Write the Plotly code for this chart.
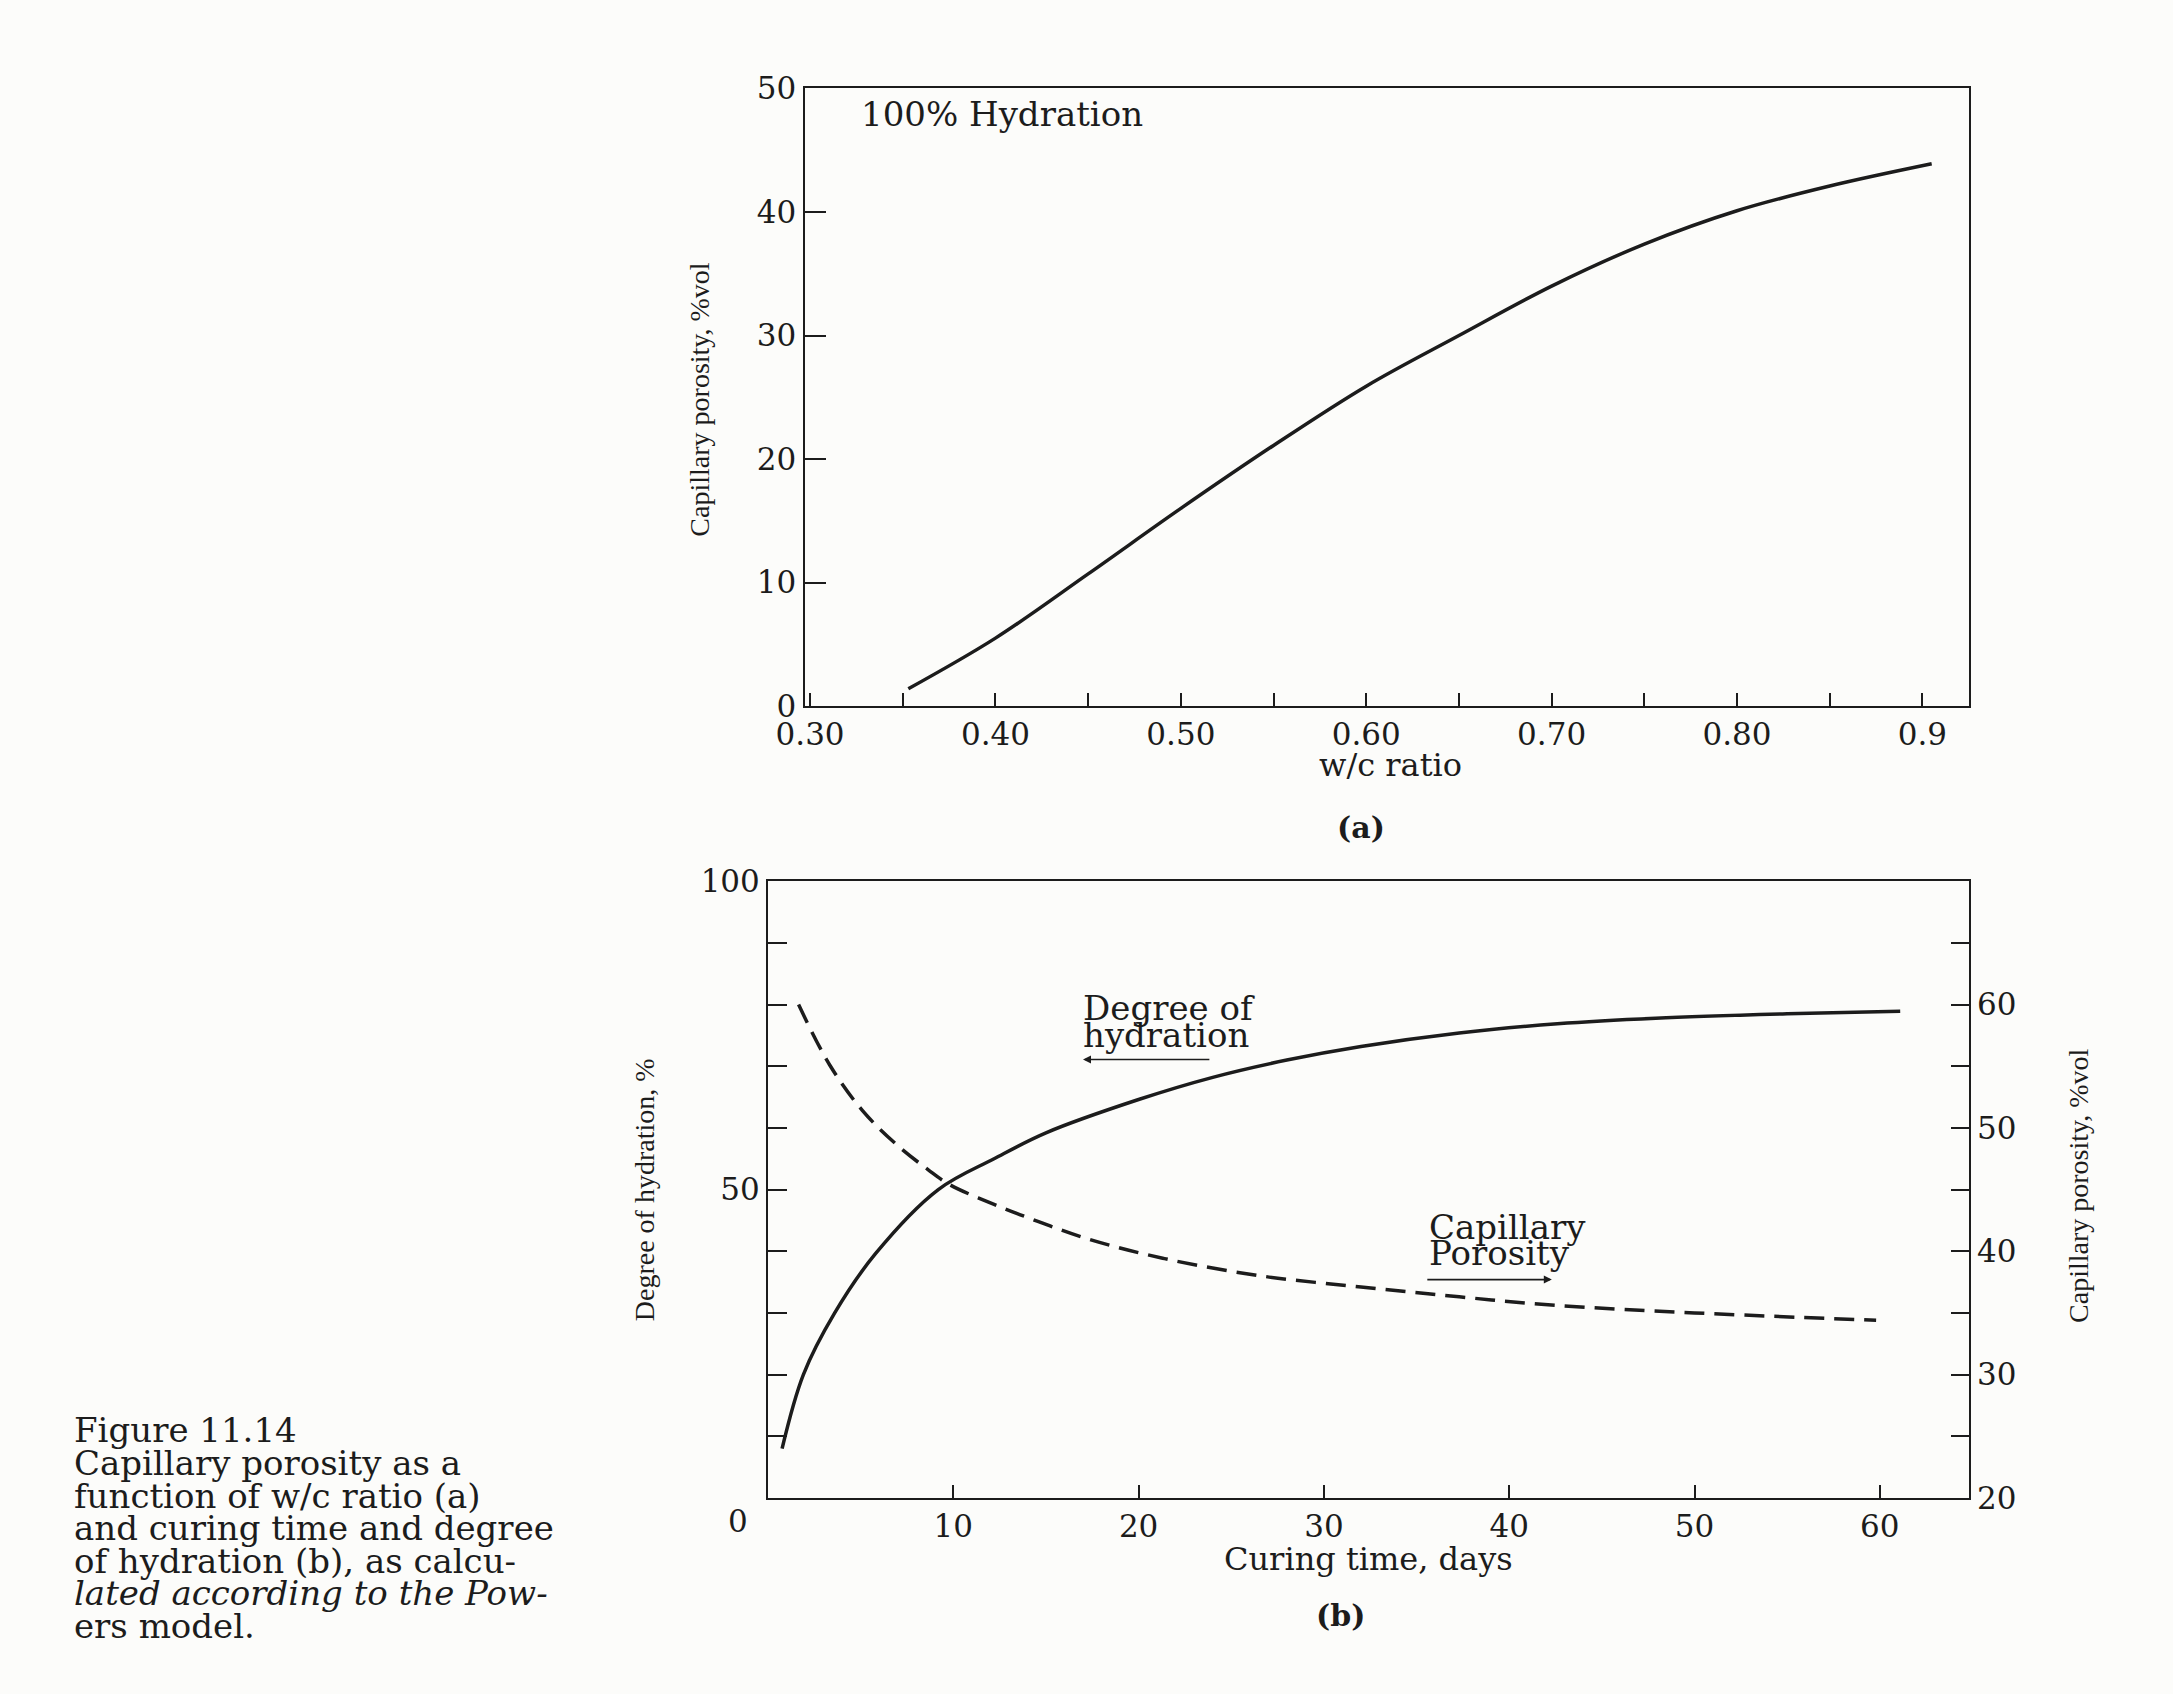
import plotly.graph_objects as go

# (a) capillary porosity vs w/c ratio at 100% hydration
wc_ratio = [0.353, 0.40, 0.45, 0.50, 0.55, 0.60, 0.65, 0.70, 0.75, 0.80, 0.85, 0.905]
porosity_wc = [1.4, 5.5, 10.7, 16.0, 21.1, 25.9, 30.0, 34.0, 37.4, 40.1, 42.1, 43.9]
wc_ticks = [0.30, 0.35, 0.40, 0.45, 0.50, 0.55, 0.60, 0.65, 0.70, 0.75, 0.80, 0.85, 0.90]
wc_labels = ["0.30", "", "0.40", "", "0.50", "", "0.60", "", "0.70", "", "0.80", "", "0.9"]
por_ticks = [0, 10, 20, 30, 40, 50]

# (b) degree of hydration and capillary porosity vs curing time
days_hyd = [0.76, 1.91, 3.6, 5.8, 9.19, 12.2, 15.0, 20.0, 24.0, 28.0, 32.0, 37.3, 42.6, 47.9, 55.0, 61.1]
hydration = [8.0, 20.0, 30.0, 39.6, 50.0, 55.0, 59.2, 64.6, 68.2, 71.0, 73.2, 75.4, 76.9, 77.8, 78.5, 78.9]
days_por = [1.65, 3.33, 5.1, 6.9, 8.65, 9.8, 12.2, 14.6, 17.25, 21.4, 26.6, 32.0, 37.3, 42.6, 50.0, 59.8]
porosity_days = [60.0, 55.1, 51.4, 48.7, 46.6, 45.4, 43.8, 42.4, 41.0, 39.4, 38.0, 37.1, 36.3, 35.6, 35.0, 34.4]
day_ticks = [10, 20, 30, 40, 50, 60]
hyd_ticks = [0, 10, 20, 30, 40, 50, 60, 70, 80, 90, 100]
hyd_labels = ["", "", "", "", "", "50", "", "", "", "", "100"]
cp_ticks = [20, 25, 30, 35, 40, 45, 50, 55, 60, 65, 70]
cp_labels = ["20", "", "30", "", "40", "", "50", "", "60", "", ""]

caption = [
    "Figure 11.14",
    "Capillary porosity as a",
    "function of w/c ratio (a)",
    "and curing time and degree",
    "of hydration (b), as calcu-",
    "<i>lated according to the Pow-</i>",
    "ers model.",
]

W, H = 2173, 1694
INK = "#1c1c1c"
SERIF = "DejaVu Serif"
NARROW = "Liberation Serif"


def px(x):
    return x / W


def py(y):
    return 1 - y / H


axis_common = dict(
    showline=True, linecolor=INK, linewidth=2, showgrid=False, zeroline=False,
    ticks="inside", tickcolor=INK, tickwidth=2,
    tickfont=dict(family=SERIF, size=31, color=INK),
)

fig = go.Figure()

fig.add_trace(go.Scatter(
    x=wc_ratio, y=porosity_wc, mode="lines", line=dict(color=INK, width=3.5, shape="spline"),
    xaxis="x", yaxis="y", showlegend=False,
))
fig.add_trace(go.Scatter(
    x=days_hyd, y=hydration, mode="lines", line=dict(color=INK, width=3.5, shape="spline"),
    xaxis="x2", yaxis="y2", showlegend=False,
))
fig.add_trace(go.Scatter(
    x=days_por, y=porosity_days, mode="lines",
    line=dict(color=INK, width=3.5, shape="spline", dash="20px,10px"),
    xaxis="x2", yaxis="y3", showlegend=False,
))

fig.update_layout(
    width=W, height=H,
    margin=dict(l=0, r=0, t=0, b=0),
    paper_bgcolor="#fcfcfa", plot_bgcolor="rgba(0,0,0,0)",
    xaxis=dict(axis_common, domain=[px(786), px(1966)], range=[0.297, 0.925], anchor="y",
               tickvals=wc_ticks, ticktext=wc_labels, ticklen=13, mirror=True),
    yaxis=dict(axis_common, domain=[py(703), py(72)], range=[0, 50], anchor="x",
               tickvals=por_ticks, ticklen=21, mirror=True),
    xaxis2=dict(axis_common, domain=[px(749), px(1966)], range=[0, 64.8], anchor="y2",
                tickvals=day_ticks, ticklen=13, mirror=True),
    yaxis2=dict(axis_common, domain=[py(1512), py(882)], range=[0, 100], anchor="x2",
                tickvals=hyd_ticks, ticktext=hyd_labels, ticklen=19),
    yaxis3=dict(axis_common, overlaying="y2", side="right", range=[20, 70], anchor="x2",
                tickvals=cp_ticks, ticktext=cp_labels, ticklen=18),
)

notes = [
    # (text, x px, y px, size, family, angle, xanchor)
    ("100% Hydration", 841, 98, 34, SERIF, 0, "left"),
    ("Capillary porosity, %vol", 680, 390, 28, NARROW, -90, "center"),
    ("w/c ratio", 1380, 763, 32, SERIF, 0, "center"),
    ("<b>(a)</b>", 1350, 827, 30, SERIF, 0, "center"),
    ("Degree of hydration, %", 624, 1197, 28, NARROW, -90, "center"),
    ("Capillary porosity, %vol", 2077, 1193, 28, NARROW, -90, "center"),
    ("Curing time, days", 1358, 1574, 32, SERIF, 0, "center"),
    ("<b>(b)</b>", 1329, 1632, 30, SERIF, 0, "center"),
    ("0", 719, 1536, 31, SERIF, 0, "center"),
    ("Degree of", 1066, 1011, 34, SERIF, 0, "left"),
    ("hydration", 1066, 1039, 34, SERIF, 0, "left"),
    ("Capillary", 1417, 1235, 34, SERIF, 0, "left"),
    ("Porosity", 1417, 1262, 34, SERIF, 0, "left"),
]
for i, line in enumerate(caption):
    notes.append((line, 44, 1443 + 33.3 * i, 34, SERIF, 0, "left"))

for text, x, y, size, family, angle, xanchor in notes:
    fig.add_annotation(
        text=text, x=px(x), y=py(y), xref="paper", yref="paper",
        xanchor=xanchor, yanchor="middle", textangle=angle, showarrow=False,
        font=dict(family=family, size=size, color=INK),
    )

# arrows pointing at the axis each curve belongs to
fig.add_annotation(x=17.0, y=71.1, ax=23.9, ay=71.1, xref="x2", yref="y2", axref="x2", ayref="y2",
                   text="", showarrow=True, arrowhead=2, arrowsize=1, arrowwidth=1.6, arrowcolor=INK)
fig.add_annotation(x=42.3, y=35.4, ax=35.5, ay=35.4, xref="x2", yref="y2", axref="x2", ayref="y2",
                   text="", showarrow=True, arrowhead=2, arrowsize=1, arrowwidth=1.6, arrowcolor=INK)

fig.write_html("out.html", config={"displayModeBar": False},
               post_script="document.body.style.margin = '0';")
